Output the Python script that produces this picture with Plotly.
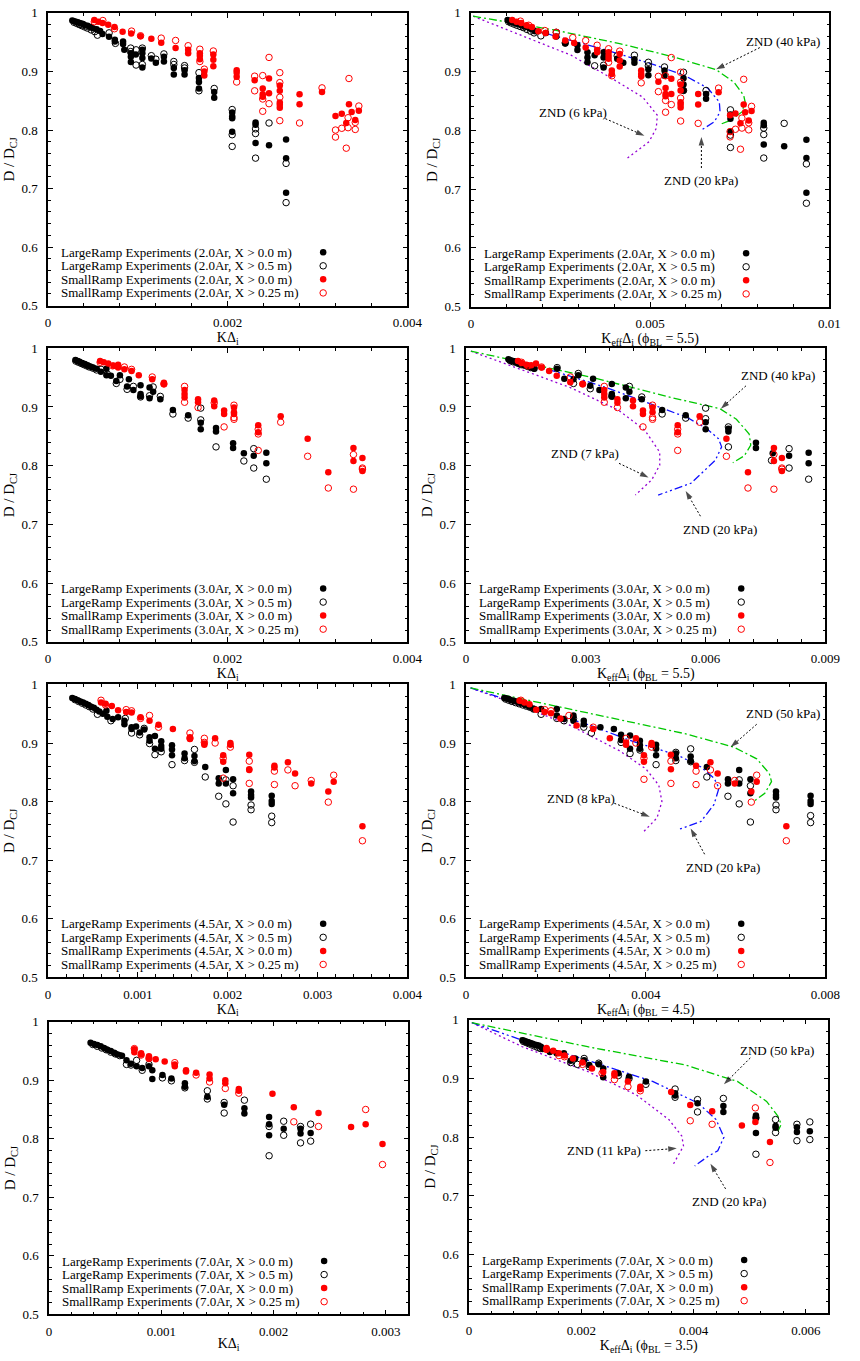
import plotly.graph_objects as go

FONT = "Liberation Serif"
FIG_W, FIG_H = 860, 1361

# ---------------- Row 1 : 2.0Ar ----------------
ar20_K_LR0_x = [0.00027,0.00029,0.00031,0.00033,0.00035,0.00037,0.00039,0.00041,0.00044,0.00047,0.00050,0.00054,0.00058,0.000606,0.000679,0.000744,0.000744,0.000835,0.000835,0.000849,0.000922,0.000922,0.000922,0.000977,0.00105,0.00105,0.00105,0.00105,0.00115,0.0012,0.00129,0.00129,0.0014,0.0014,0.00152,0.00152,0.00168,0.00168,0.00168,0.00185,0.00185,0.00205,0.00205,0.00205,0.00205,0.00231,0.00231,0.00231,0.00246,0.00265,0.00265,0.00265]
ar20_K_LR0_y = [0.987,0.986,0.985,0.984,0.983,0.982,0.981,0.979,0.978,0.976,0.974,0.972,0.969,0.964,0.9595,0.954,0.951,0.951,0.947,0.937,0.931,0.925,0.916,0.929,0.937,0.931,0.923,0.907,0.922,0.915,0.925,0.917,0.906,0.895,0.902,0.895,0.889,0.882,0.871,0.865,0.855,0.830,0.823,0.820,0.797,0.813,0.809,0.778,0.774,0.784,0.752,0.693]
ar20_K_LR5_x = [0.00029,0.00032,0.00035,0.00038,0.00041,0.00044,0.00048,0.00052,0.00055,0.00068,0.00075,0.00092,0.00092,0.00098,0.00098,0.00105,0.00105,0.00115,0.0012,0.00129,0.0014,0.0014,0.00152,0.00152,0.00168,0.00168,0.00185,0.00205,0.00205,0.00205,0.00231,0.00231,0.00231,0.00246,0.00265,0.00265]
ar20_K_LR5_y = [0.984,0.982,0.980,0.978,0.976,0.974,0.971,0.968,0.962,0.966,0.948,0.94,0.934,0.937,0.911,0.94,0.912,0.927,0.921,0.93,0.917,0.912,0.91,0.906,0.898,0.867,0.871,0.835,0.792,0.772,0.802,0.794,0.752,0.812,0.743,0.676]
ar20_K_SR0_x = [0.000515,0.00056,0.000606,0.00067,0.00074,0.00083,0.000926,0.00103,0.00115,0.00126,0.00142,0.00156,0.00156,0.00169,0.00169,0.00169,0.00174,0.00174,0.00184,0.00184,0.00184,0.0021,0.0021,0.0021,0.0023,0.00239,0.00239,0.00239,0.00246,0.00246,0.00258,0.00258,0.00258,0.00258,0.00258,0.0028,0.0028,0.00305,0.0032,0.00327,0.00332,0.00335,0.00338,0.00342,0.00346]
ar20_K_SR0_y = [0.988,0.985,0.983,0.980,0.976,0.968,0.965,0.96,0.956,0.949,0.94,0.937,0.931,0.931,0.927,0.921,0.9,0.893,0.929,0.92,0.909,0.902,0.898,0.891,0.885,0.871,0.861,0.857,0.888,0.863,0.876,0.867,0.847,0.843,0.838,0.861,0.844,0.865,0.824,0.828,0.812,0.844,0.831,0.817,0.833]
ar20_K_SR25_x = [0.000515,0.00061,0.00074,0.00093,0.00103,0.00126,0.00142,0.00156,0.00169,0.00169,0.00174,0.00184,0.0021,0.0023,0.0023,0.00239,0.00239,0.00239,0.00246,0.00246,0.00258,0.00258,0.00258,0.00258,0.0028,0.00305,0.0032,0.0032,0.00327,0.00332,0.00334,0.00334,0.00335,0.00342,0.00342,0.00346]
ar20_K_SR25_y = [0.985,0.987,0.973,0.969,0.961,0.957,0.953,0.944,0.938,0.917,0.904,0.935,0.882,0.892,0.867,0.893,0.853,0.832,0.924,0.845,0.898,0.881,0.856,0.816,0.812,0.872,0.8,0.788,0.803,0.769,0.821,0.804,0.888,0.813,0.801,0.841]

ar20_E_LR0_x = [0.00102,0.00108,0.00114,0.0012,0.00127,0.00134,0.00141,0.00149,0.00157,0.00165,0.00172,0.00179,0.00209,0.00238,0.00263,0.00297,0.00297,0.00325,0.00325,0.00325,0.00345,0.0037,0.0037,0.0037,0.00408,0.00425,0.00456,0.00456,0.00495,0.00495,0.0054,0.0054,0.00593,0.00593,0.00593,0.00656,0.00656,0.00724,0.00724,0.00724,0.00817,0.00817,0.00817,0.00874,0.00936,0.00936,0.00936]
ar20_E_LR0_y = [0.988,0.986,0.985,0.984,0.982,0.981,0.979,0.977,0.976,0.974,0.972,0.969,0.966,0.96,0.948,0.945,0.937,0.933,0.924,0.916,0.928,0.933,0.924,0.907,0.922,0.915,0.921,0.915,0.904,0.894,0.902,0.893,0.889,0.878,0.868,0.862,0.854,0.827,0.82,0.798,0.813,0.809,0.776,0.773,0.784,0.753,0.694]
ar20_E_LR5_x = [0.00105,0.00112,0.0012,0.00128,0.00137,0.00146,0.00156,0.00166,0.00176,0.00195,0.00238,0.00263,0.00345,0.0037,0.00408,0.00456,0.00495,0.00495,0.0054,0.00593,0.00593,0.00656,0.00724,0.00724,0.00724,0.00817,0.00817,0.00817,0.00874,0.00936,0.00936]
ar20_E_LR5_y = [0.985,0.983,0.981,0.979,0.977,0.975,0.972,0.969,0.966,0.961,0.967,0.949,0.91,0.911,0.927,0.928,0.916,0.91,0.908,0.899,0.868,0.868,0.835,0.792,0.771,0.804,0.793,0.753,0.812,0.743,0.676]
ar20_E_SR0_x = [0.00115,0.00127,0.0014,0.00155,0.0017,0.00188,0.00208,0.00236,0.00263,0.00288,0.0032,0.00352,0.00352,0.00384,0.00384,0.00384,0.00393,0.00393,0.00415,0.00415,0.00415,0.00475,0.00475,0.00475,0.00523,0.00543,0.00543,0.00543,0.00559,0.00559,0.00585,0.00585,0.00585,0.00585,0.00585,0.00634,0.00634,0.00691,0.00723,0.00738,0.00752,0.00761,0.00765,0.00775,0.00783]
ar20_E_SR0_y = [0.988,0.985,0.983,0.979,0.976,0.969,0.966,0.96,0.953,0.949,0.941,0.937,0.933,0.933,0.927,0.922,0.902,0.896,0.93,0.919,0.909,0.902,0.896,0.892,0.883,0.872,0.862,0.858,0.888,0.862,0.878,0.868,0.848,0.844,0.839,0.862,0.844,0.865,0.826,0.829,0.812,0.844,0.831,0.817,0.833]
ar20_E_SR25_x = [0.00138,0.00161,0.00206,0.00238,0.00284,0.0032,0.00352,0.00384,0.00384,0.00393,0.00415,0.00475,0.00523,0.00523,0.00543,0.00543,0.00543,0.00559,0.00559,0.00585,0.00585,0.00585,0.00585,0.00634,0.00691,0.00723,0.00723,0.00738,0.00752,0.00756,0.00756,0.00761,0.00775,0.00775,0.00783]
ar20_E_SR25_y = [0.986,0.979,0.97,0.967,0.958,0.953,0.945,0.939,0.916,0.893,0.935,0.881,0.892,0.866,0.893,0.851,0.831,0.924,0.844,0.899,0.882,0.855,0.816,0.812,0.872,0.789,0.798,0.802,0.768,0.821,0.804,0.887,0.813,0.801,0.841]

ar20_znd40_x = [0.00006,0.00234,0.00415,0.00561,0.00684,0.00734,0.00761,0.00765,0.00756,0.00725,0.00697]
ar20_znd40_y = [0.9944,0.9708,0.9478,0.9258,0.9034,0.882,0.8596,0.8483,0.8315,0.8174,0.8107]
ar20_znd20_x = [0.00102,0.00234,0.0037,0.00506,0.00597,0.00661,0.00693,0.00695,0.00679,0.00643]
ar20_znd20_y = [0.986,0.9607,0.9382,0.9129,0.8933,0.8719,0.8483,0.8315,0.8146,0.8006]
ar20_znd6_x = [0.00006,0.00143,0.00279,0.00388,0.00479,0.0052,0.00517,0.00497,0.00434]
ar20_znd6_y = [0.9944,0.9607,0.9281,0.8904,0.8567,0.8258,0.8034,0.7809,0.7517]

# ---------------- Row 2 : 3.0Ar ----------------
ar30_K_LR0_x = [0.000305,0.00033,0.00035,0.00038,0.00041,0.00044,0.00047,0.0005,0.00054,0.000588,0.00065,0.00065,0.0007,0.00076,0.0008,0.00088,0.0009,0.00095,0.00103,0.00103,0.00103,0.00113,0.00113,0.00117,0.00125,0.00139,0.00156,0.0017,0.0017,0.00187,0.00187,0.00206,0.00206,0.00218,0.00229,0.00243,0.00243]
ar30_K_LR0_y = [0.98,0.978,0.977,0.975,0.973,0.971,0.969,0.967,0.965,0.96,0.965,0.954,0.953,0.944,0.954,0.935,0.947,0.929,0.937,0.922,0.918,0.933,0.915,0.926,0.913,0.895,0.886,0.873,0.862,0.864,0.858,0.838,0.83,0.821,0.817,0.822,0.804]
ar30_K_LR5_x = [0.00031,0.00034,0.00037,0.0004,0.00043,0.00046,0.0005,0.00054,0.00059,0.00066,0.00076,0.0008,0.00088,0.00095,0.00103,0.00113,0.00117,0.00125,0.00139,0.00156,0.0017,0.0017,0.00187,0.00218,0.00229,0.00229,0.00243]
ar30_K_LR5_y = [0.978,0.976,0.974,0.972,0.97,0.968,0.966,0.963,0.964,0.956,0.94,0.947,0.93,0.935,0.917,0.919,0.934,0.918,0.888,0.881,0.898,0.878,0.832,0.808,0.829,0.796,0.777]
ar30_K_SR0_x = [0.00058,0.00062,0.00067,0.00073,0.00078,0.00078,0.00085,0.00093,0.00101,0.00116,0.00129,0.00129,0.00152,0.00152,0.00152,0.00167,0.00167,0.00185,0.00185,0.00196,0.00196,0.00207,0.00207,0.00207,0.00234,0.00234,0.00259,0.00289,0.00312,0.0034,0.0034,0.0035,0.0035]
ar30_K_SR0_y = [0.978,0.976,0.974,0.97,0.972,0.967,0.964,0.961,0.954,0.947,0.941,0.939,0.929,0.922,0.916,0.913,0.908,0.911,0.901,0.894,0.888,0.899,0.891,0.888,0.869,0.857,0.884,0.846,0.789,0.83,0.808,0.813,0.791]
ar30_K_SR25_x = [0.00058,0.00072,0.00085,0.00093,0.00116,0.00129,0.00152,0.00152,0.00167,0.00185,0.00196,0.00207,0.00207,0.00207,0.00234,0.00234,0.00234,0.00259,0.00289,0.00312,0.0034,0.0034,0.0035,0.0035]
ar30_K_SR25_y = [0.976,0.97,0.968,0.964,0.951,0.939,0.935,0.908,0.899,0.907,0.866,0.903,0.882,0.879,0.862,0.854,0.826,0.874,0.816,0.762,0.819,0.76,0.796,0.794]

ar30_E_LR0_x = [0.00106,0.00112,0.00118,0.00124,0.0013,0.00137,0.00144,0.00151,0.00158,0.00165,0.00171,0.00228,0.00246,0.00269,0.00281,0.00311,0.00318,0.00334,0.00365,0.00365,0.00365,0.004,0.004,0.00409,0.0044,0.00491,0.0055,0.006,0.006,0.00657,0.00657,0.00726,0.00726,0.00768,0.00809,0.00858,0.00858]
ar30_E_LR0_y = [0.981,0.979,0.978,0.977,0.975,0.974,0.972,0.971,0.969,0.967,0.965,0.965,0.948,0.947,0.954,0.936,0.948,0.929,0.939,0.922,0.918,0.933,0.915,0.926,0.913,0.895,0.886,0.874,0.862,0.863,0.858,0.839,0.83,0.821,0.817,0.822,0.804]
ar30_E_LR5_x = [0.0011,0.00117,0.00124,0.00131,0.00138,0.00146,0.00154,0.00162,0.0017,0.00228,0.00269,0.00281,0.00311,0.00365,0.00409,0.0044,0.00491,0.0055,0.006,0.006,0.00657,0.00657,0.00765,0.00809,0.00809,0.00858]
ar30_E_LR5_y = [0.979,0.977,0.976,0.974,0.972,0.971,0.969,0.967,0.966,0.967,0.94,0.957,0.931,0.918,0.935,0.917,0.888,0.881,0.898,0.88,0.866,0.832,0.809,0.829,0.796,0.777]
ar30_E_SR0_x = [0.0013,0.00139,0.00151,0.00163,0.00175,0.00189,0.00208,0.00227,0.00261,0.00292,0.00346,0.00346,0.00346,0.00379,0.00379,0.00418,0.00418,0.00443,0.00443,0.00467,0.00467,0.0053,0.0053,0.00585,0.00652,0.00706,0.00771,0.00771,0.00791,0.00791]
ar30_E_SR0_y = [0.978,0.975,0.972,0.971,0.974,0.967,0.961,0.953,0.942,0.939,0.929,0.922,0.916,0.913,0.907,0.911,0.901,0.894,0.888,0.899,0.891,0.869,0.857,0.884,0.846,0.789,0.83,0.808,0.813,0.791]
ar30_E_SR25_x = [0.00139,0.00155,0.00189,0.00261,0.00292,0.00346,0.00346,0.00379,0.00443,0.00467,0.00467,0.00467,0.0053,0.0053,0.0053,0.00585,0.00652,0.00706,0.00771,0.00771,0.00791,0.00791]
ar30_E_SR25_y = [0.976,0.97,0.968,0.951,0.939,0.935,0.908,0.899,0.866,0.903,0.882,0.879,0.862,0.854,0.826,0.874,0.816,0.762,0.819,0.76,0.796,0.794]

ar30_znd40_x = [0.00012,0.00318,0.00514,0.00636,0.00677,0.00709,0.00713,0.00697,0.00668]
ar30_znd40_y = [0.995,0.95,0.916,0.897,0.879,0.854,0.835,0.817,0.805]
ar30_znd20_x = [0.00102,0.0022,0.00351,0.00465,0.00554,0.00603,0.00632,0.0064,0.00624,0.00563,0.00481]
ar30_znd20_y = [0.981,0.961,0.933,0.905,0.882,0.863,0.846,0.832,0.809,0.77,0.75]
ar30_znd7_x = [0.00012,0.00139,0.00261,0.00383,0.00448,0.00485,0.00485,0.00465,0.00424]
ar30_znd7_y = [0.995,0.964,0.933,0.894,0.86,0.823,0.801,0.776,0.75]

# ---------------- Row 3 : 4.5Ar ----------------
ar45_K_LR0_x = [0.00027,0.0003,0.00033,0.00036,0.00039,0.00042,0.00045,0.00048,0.00051,0.00054,0.00057,0.00061,0.00065,0.00066,0.00072,0.00078,0.00085,0.00085,0.00093,0.00093,0.00098,0.00102,0.00107,0.00113,0.00113,0.00119,0.00119,0.00126,0.00126,0.00126,0.00138,0.00138,0.00138,0.00152,0.00152,0.00163,0.00163,0.00175,0.0019,0.0019,0.00198,0.00198,0.00206,0.00206,0.00226,0.00226,0.00226,0.00249,0.00249,0.00249]
ar45_K_LR0_y = [0.977,0.975,0.973,0.971,0.969,0.967,0.965,0.962,0.96,0.957,0.954,0.95,0.955,0.945,0.941,0.944,0.938,0.932,0.927,0.924,0.928,0.918,0.923,0.91,0.904,0.912,0.89,0.903,0.895,0.89,0.896,0.889,0.879,0.882,0.874,0.878,0.869,0.859,0.84,0.831,0.854,0.831,0.838,0.814,0.817,0.811,0.807,0.81,0.801,0.796]
ar45_K_LR5_x = [0.0003,0.00034,0.00038,0.00042,0.00046,0.0005,0.00055,0.0007,0.00086,0.00093,0.00102,0.00107,0.00113,0.00119,0.00126,0.00138,0.00152,0.00163,0.00163,0.00175,0.0019,0.00198,0.00198,0.00206,0.00206,0.00226,0.00226,0.00249,0.00249]
ar45_K_LR5_y = [0.974,0.971,0.968,0.965,0.962,0.958,0.949,0.938,0.942,0.917,0.914,0.925,0.899,0.88,0.885,0.863,0.87,0.889,0.867,0.842,0.809,0.837,0.796,0.827,0.765,0.794,0.786,0.775,0.764]
ar45_K_SR0_x = [0.00059,0.00064,0.00071,0.00078,0.00087,0.00093,0.00103,0.00113,0.00123,0.00139,0.00158,0.00158,0.00174,0.00174,0.00186,0.00195,0.00195,0.00203,0.00203,0.00224,0.00224,0.00224,0.00252,0.00252,0.00267,0.00275,0.00293,0.00312,0.00318,0.0035]
ar45_K_SR0_y = [0.969,0.967,0.963,0.956,0.953,0.952,0.944,0.938,0.931,0.924,0.91,0.907,0.899,0.897,0.908,0.879,0.868,0.9,0.897,0.88,0.855,0.854,0.861,0.858,0.867,0.848,0.831,0.817,0.834,0.758]
ar45_K_SR25_x = [0.00059,0.00064,0.00087,0.00093,0.00103,0.00113,0.00123,0.00158,0.00158,0.00174,0.00174,0.00186,0.00195,0.00195,0.00203,0.00224,0.00224,0.00252,0.00252,0.00267,0.00275,0.00293,0.00312,0.00318,0.0035]
ar45_K_SR25_y = [0.973,0.965,0.957,0.955,0.942,0.947,0.927,0.917,0.908,0.908,0.901,0.9,0.874,0.84,0.893,0.869,0.831,0.852,0.829,0.854,0.827,0.836,0.799,0.845,0.733]

ar45_E_LR0_x = [0.00085,0.0009,0.00095,0.001,0.00106,0.00112,0.00118,0.00124,0.0013,0.00136,0.00142,0.00152,0.00167,0.00202,0.00202,0.00218,0.00239,0.00239,0.00262,0.00262,0.00299,0.00329,0.00345,0.00345,0.00365,0.00365,0.00387,0.00387,0.00387,0.00423,0.00423,0.00423,0.00467,0.00467,0.005,0.005,0.00536,0.00583,0.00583,0.00608,0.00608,0.00633,0.00633,0.0069,0.0069,0.0069,0.00767,0.00767,0.00767]
ar45_E_LR0_y = [0.977,0.976,0.975,0.973,0.972,0.971,0.969,0.968,0.966,0.964,0.962,0.958,0.958,0.958,0.947,0.941,0.947,0.938,0.938,0.932,0.927,0.924,0.914,0.905,0.913,0.89,0.904,0.896,0.89,0.897,0.89,0.879,0.882,0.874,0.877,0.869,0.859,0.838,0.831,0.854,0.831,0.838,0.814,0.817,0.811,0.807,0.81,0.801,0.796]
ar45_E_LR5_x = [0.00088,0.00095,0.00102,0.0011,0.00118,0.00126,0.00134,0.00142,0.0015,0.00167,0.00202,0.00218,0.00239,0.00262,0.00279,0.00345,0.00365,0.00387,0.00423,0.00467,0.00467,0.005,0.005,0.00536,0.00583,0.00608,0.00608,0.00633,0.00633,0.0069,0.0069,0.00767,0.00767]
ar45_E_LR5_y = [0.975,0.973,0.971,0.969,0.967,0.965,0.963,0.961,0.958,0.949,0.942,0.938,0.942,0.927,0.917,0.901,0.882,0.888,0.863,0.884,0.87,0.89,0.868,0.842,0.809,0.837,0.796,0.827,0.765,0.794,0.786,0.776,0.764]
ar45_E_SR0_x = [0.00119,0.0013,0.00141,0.00156,0.00175,0.00189,0.0021,0.00246,0.00283,0.0032,0.00356,0.00356,0.00378,0.00396,0.00396,0.00413,0.00413,0.00456,0.00456,0.00512,0.00544,0.0056,0.00598,0.00635,0.00647,0.00713]
ar45_E_SR0_y = [0.972,0.969,0.966,0.957,0.953,0.951,0.942,0.93,0.924,0.908,0.901,0.897,0.908,0.879,0.868,0.9,0.897,0.88,0.855,0.861,0.867,0.848,0.831,0.817,0.834,0.758]
ar45_E_SR25_x = [0.00122,0.00175,0.00189,0.00229,0.00283,0.00356,0.00378,0.00396,0.00396,0.00413,0.00456,0.00456,0.00512,0.00512,0.00544,0.0056,0.00598,0.00635,0.00647,0.00713]
ar45_E_SR25_y = [0.973,0.957,0.955,0.947,0.927,0.908,0.9,0.874,0.838,0.893,0.869,0.831,0.852,0.829,0.854,0.827,0.836,0.799,0.845,0.733]

ar45_znd50_x = [0.0001,0.00269,0.00487,0.00596,0.00647,0.00675,0.0068,0.00665,0.0064]
ar45_znd50_y = [0.994,0.952,0.916,0.893,0.873,0.848,0.834,0.814,0.8]
ar45_znd20_x = [0.0001,0.00123,0.00269,0.00378,0.00472,0.00523,0.00552,0.00563,0.00552,0.00523,0.00472]
ar45_znd20_y = [0.994,0.966,0.932,0.901,0.879,0.859,0.84,0.823,0.795,0.766,0.752]
ar45_znd8_x = [0.0001,0.00123,0.00232,0.00341,0.004,0.00429,0.00436,0.00425,0.00396]
ar45_znd8_y = [0.994,0.963,0.93,0.887,0.856,0.828,0.8,0.772,0.749]

# ---------------- Row 4 : 7.0Ar ----------------
ar70_K_LR0_x = [0.00037,0.0004,0.00043,0.00046,0.00049,0.00052,0.00055,0.00058,0.00061,0.00065,0.00069,0.00073,0.00078,0.00083,0.00089,0.00092,0.00092,0.00101,0.00109,0.00121,0.00121,0.00141,0.00156,0.00174,0.00174,0.00196,0.00196,0.00196,0.00209,0.00224,0.00224,0.00233]
ar70_K_LR0_y = [0.964,0.962,0.96,0.958,0.955,0.952,0.95,0.947,0.944,0.942,0.934,0.928,0.924,0.921,0.924,0.917,0.902,0.909,0.903,0.895,0.889,0.872,0.858,0.852,0.843,0.837,0.825,0.806,0.817,0.817,0.809,0.81]
ar70_K_LR5_x = [0.00039,0.00043,0.00047,0.00051,0.00055,0.00059,0.00063,0.00069,0.00073,0.00078,0.00083,0.00089,0.00101,0.00109,0.00121,0.00141,0.00141,0.00156,0.00156,0.00174,0.00196,0.00196,0.00209,0.00209,0.00224,0.00224,0.00233,0.00233]
ar70_K_LR5_y = [0.961,0.958,0.955,0.952,0.948,0.945,0.942,0.927,0.926,0.934,0.917,0.927,0.904,0.899,0.887,0.882,0.868,0.862,0.844,0.866,0.821,0.771,0.83,0.806,0.821,0.793,0.825,0.796]
ar70_K_SR0_x = [0.00076,0.00076,0.00082,0.00082,0.00089,0.00089,0.00095,0.00103,0.00112,0.00112,0.00122,0.00122,0.00131,0.00143,0.00143,0.00157,0.00157,0.00169,0.00169,0.00199,0.00218,0.0024,0.00269,0.00282,0.00297]
ar70_K_SR0_y = [0.953,0.948,0.946,0.944,0.941,0.938,0.936,0.932,0.927,0.924,0.917,0.915,0.913,0.91,0.903,0.9,0.895,0.885,0.882,0.877,0.854,0.844,0.82,0.825,0.791]
ar70_K_SR25_x = [0.00076,0.00082,0.00089,0.00112,0.00131,0.00143,0.00157,0.00169,0.00218,0.0024,0.00282,0.00297]
ar70_K_SR25_y = [0.954,0.943,0.937,0.93,0.909,0.897,0.886,0.878,0.829,0.821,0.85,0.756]

ar70_E_LR0_x = [0.00095,0.00098,0.00101,0.00104,0.00107,0.0011,0.00113,0.00116,0.0012,0.00124,0.00128,0.00131,0.00144,0.00156,0.00169,0.00181,0.00189,0.00205,0.00214,0.00231,0.00239,0.00239,0.00266,0.00285,0.00315,0.00367,0.00367,0.00407,0.00453,0.00453,0.00511,0.00511,0.00511,0.00546,0.00546,0.00584,0.00584,0.00607]
ar70_E_LR0_y = [0.965,0.964,0.963,0.962,0.961,0.96,0.959,0.958,0.957,0.956,0.954,0.95,0.945,0.943,0.943,0.93,0.934,0.931,0.923,0.924,0.917,0.902,0.909,0.903,0.895,0.875,0.871,0.858,0.853,0.843,0.837,0.833,0.807,0.819,0.816,0.817,0.809,0.81]
ar70_E_LR5_x = [0.00097,0.00102,0.00107,0.00112,0.00117,0.00122,0.00127,0.00181,0.00193,0.00205,0.00214,0.00231,0.00266,0.00285,0.00315,0.00367,0.00367,0.00407,0.00407,0.00453,0.00511,0.00511,0.00546,0.00546,0.00584,0.00584,0.00607,0.00607]
ar70_E_LR5_y = [0.963,0.961,0.959,0.957,0.955,0.953,0.951,0.927,0.924,0.934,0.92,0.926,0.905,0.9,0.89,0.882,0.868,0.864,0.843,0.866,0.833,0.771,0.83,0.808,0.822,0.794,0.826,0.796]
ar70_E_SR0_x = [0.00138,0.00138,0.0015,0.0016,0.0017,0.00185,0.00202,0.00219,0.00239,0.00259,0.00259,0.00283,0.00305,0.00305,0.0036,0.00394,0.00433,0.00486,0.0051,0.00536]
ar70_E_SR0_y = [0.952,0.949,0.947,0.943,0.939,0.934,0.927,0.917,0.911,0.909,0.905,0.895,0.886,0.882,0.877,0.855,0.844,0.82,0.826,0.792]
ar70_E_SR25_x = [0.00138,0.0016,0.0017,0.00202,0.00237,0.00259,0.00283,0.00305,0.00394,0.00433,0.0051,0.00536]
ar70_E_SR25_y = [0.95,0.939,0.937,0.924,0.909,0.898,0.886,0.879,0.828,0.822,0.85,0.757]

ar70_znd50_x = [0.00005,0.00211,0.00385,0.00478,0.0053,0.0055,0.00556,0.0055]
ar70_znd50_y = [0.995,0.954,0.923,0.895,0.861,0.836,0.822,0.81]
ar70_znd20_x = [0.00005,0.00095,0.00211,0.00327,0.00408,0.0044,0.00454,0.00443,0.00425,0.00402]
ar70_znd20_y = [0.995,0.965,0.931,0.895,0.858,0.83,0.8,0.777,0.767,0.751]
ar70_znd11_x = [0.00005,0.00095,0.00211,0.00298,0.00356,0.00379,0.00382,0.00362]
ar70_znd11_y = [0.995,0.954,0.912,0.872,0.83,0.802,0.785,0.751]

# ---------------- styling / layout ----------------
GREEN, BLUE, PURPLE = "#00c800", "#1010ff", "#9400d3"
DASH_G = "8px,3px,2px,3px"
DASH_B = "8px,3px,2px,3px,2px,3px"
DASH_P = "2px,3px"

KT = "KΔ<sub>i</sub>"
def ET(phi):
    return "K<sub>eff</sub>Δ<sub>i</sub> (ϕ<sub>BL</sub> = %s)" % phi

def leg_names(ar):
    return ["LargeRamp Experiments (%sAr, X > 0.0 m)" % ar,
            "LargeRamp Experiments (%sAr, X > 0.5 m)" % ar,
            "SmallRamp Experiments (%sAr, X > 0.0 m)" % ar,
            "SmallRamp Experiments (%sAr, X > 0.25 m)" % ar]

panels = [
    dict(rect=(46, 413, 6, 302), xmax=0.004, dt=0.002, mdt=0.0004, xt=KT, ar="2.0",
         pts=[(ar20_K_LR0_x, ar20_K_LR0_y), (ar20_K_LR5_x, ar20_K_LR5_y), (ar20_K_SR0_x, ar20_K_SR0_y), (ar20_K_SR25_x, ar20_K_SR25_y)], znd=[], notes=[]),
    dict(rect=(478, 844, 6, 303), xmax=0.01, dt=0.005, mdt=0.001, xt=ET("5.5"), ar="2.0",
         pts=[(ar20_E_LR0_x, ar20_E_LR0_y), (ar20_E_LR5_x, ar20_E_LR5_y), (ar20_E_SR0_x, ar20_E_SR0_y), (ar20_E_SR25_x, ar20_E_SR25_y)],
         znd=[(ar20_znd6_x, ar20_znd6_y, PURPLE, DASH_P), (ar20_znd20_x, ar20_znd20_y, BLUE, DASH_B), (ar20_znd40_x, ar20_znd40_y, GREEN, DASH_G)],
         notes=[("ZND (40 kPa)", 0.0087, 0.9506, 0.00806, 0.941, 0.00684, 0.904),
                ("ZND (6 kPa)", 0.00285, 0.831, 0.00375, 0.82, 0.00484, 0.791),
                ("ZND (20 kPa)", 0.00641, 0.715, 0.00643, 0.736, 0.00643, 0.789)]),
    dict(rect=(46, 413, 345, 642), xmax=0.004, dt=0.002, mdt=0.0004, xt=KT, ar="3.0",
         pts=[(ar30_K_LR0_x, ar30_K_LR0_y), (ar30_K_LR5_x, ar30_K_LR5_y), (ar30_K_SR0_x, ar30_K_SR0_y), (ar30_K_SR25_x, ar30_K_SR25_y)], znd=[], notes=[]),
    dict(rect=(473, 840, 345, 642), xmax=0.009, dt=0.003, mdt=0.0006, xt=ET("5.5"), ar="3.0",
         pts=[(ar30_E_LR0_x, ar30_E_LR0_y), (ar30_E_LR5_x, ar30_E_LR5_y), (ar30_E_SR0_x, ar30_E_SR0_y), (ar30_E_SR25_x, ar30_E_SR25_y)],
         znd=[(ar30_znd7_x, ar30_znd7_y, PURPLE, DASH_P), (ar30_znd20_x, ar30_znd20_y, BLUE, DASH_B), (ar30_znd40_x, ar30_znd40_y, GREEN, DASH_G)],
         notes=[("ZND (40 kPa)", 0.0078, 0.954, 0.00701, 0.936, 0.00638, 0.897),
                ("ZND (7 kPa)", 0.00298, 0.821, 0.00383, 0.804, 0.00457, 0.78),
                ("ZND (20 kPa)", 0.00636, 0.691, 0.00587, 0.714, 0.0055, 0.757)]),
    dict(rect=(46, 413, 685, 981), xmax=0.004, dt=0.001, mdt=0.0002, xt=KT, ar="4.5",
         pts=[(ar45_K_LR0_x, ar45_K_LR0_y), (ar45_K_LR5_x, ar45_K_LR5_y), (ar45_K_SR0_x, ar45_K_SR0_y), (ar45_K_SR25_x, ar45_K_SR25_y)], znd=[], notes=[]),
    dict(rect=(473, 840, 685, 981), xmax=0.008, dt=0.004, mdt=0.0008, xt=ET("4.5"), ar="4.5",
         pts=[(ar45_E_LR0_x, ar45_E_LR0_y), (ar45_E_LR5_x, ar45_E_LR5_y), (ar45_E_SR0_x, ar45_E_SR0_y), (ar45_E_SR25_x, ar45_E_SR25_y)],
         znd=[(ar45_znd8_x, ar45_znd8_y, PURPLE, DASH_P), (ar45_znd20_x, ar45_znd20_y, BLUE, DASH_B), (ar45_znd50_x, ar45_znd50_y, GREEN, DASH_G)],
         notes=[("ZND (50 kPa)", 0.00705, 0.95, 0.00647, 0.932, 0.00589, 0.893),
                ("ZND (8 kPa)", 0.00255, 0.806, 0.0033, 0.797, 0.00409, 0.774),
                ("ZND (20 kPa)", 0.00571, 0.687, 0.00531, 0.71, 0.005, 0.754)]),
    dict(rect=(47, 414, 1026, 1322), xmax=0.0032, dt=0.001, mdt=0.0002, xt=KT, ar="7.0",
         pts=[(ar70_K_LR0_x, ar70_K_LR0_y), (ar70_K_LR5_x, ar70_K_LR5_y), (ar70_K_SR0_x, ar70_K_SR0_y), (ar70_K_SR25_x, ar70_K_SR25_y)], znd=[], notes=[]),
    dict(rect=(476, 843, 1024, 1321), xmax=0.0064, dt=0.002, mdt=0.0004, xt=ET("3.5"), ar="7.0",
         pts=[(ar70_E_LR0_x, ar70_E_LR0_y), (ar70_E_LR5_x, ar70_E_LR5_y), (ar70_E_SR0_x, ar70_E_SR0_y), (ar70_E_SR25_x, ar70_E_SR25_y)],
         znd=[(ar70_znd11_x, ar70_znd11_y, PURPLE, DASH_P), (ar70_znd20_x, ar70_znd20_y, BLUE, DASH_B), (ar70_znd50_x, ar70_znd50_y, GREEN, DASH_G)],
         notes=[("ZND (50 kPa)", 0.00548, 0.947, 0.00501, 0.935, 0.00454, 0.89),
                ("ZND (11 kPa)", 0.00241, 0.778, 0.00314, 0.777, 0.0037, 0.781),
                ("ZND (20 kPa)", 0.00463, 0.691, 0.00457, 0.712, 0.0043, 0.755)]),
]

STYLES = [
    dict(symbol="circle", color="black", size=6.5, lw=0),
    dict(symbol="circle-open", color="black", size=6.5, lw=1),
    dict(symbol="circle", color="#ff0000", size=6.5, lw=0),
    dict(symbol="circle-open", color="#ff0000", size=6.5, lw=1),
]

YMIN, YMAX = 0.5, 1.0
fig = go.Figure()
layout = dict(width=FIG_W, height=FIG_H, margin=dict(l=0, r=0, t=0, b=0),
              paper_bgcolor="white", plot_bgcolor="white", showlegend=False,
              font=dict(family=FONT, size=13, color="black"))
annotations = []

for i, p in enumerate(panels, start=1):
    xa = "x" if i == 1 else "x%d" % i
    ya = "y" if i == 1 else "y%d" % i
    x0, x1, yt, yb = p["rect"]
    wpx, hpx = x1 - x0, yb - yt
    axis_common = dict(showline=True, linewidth=1.5, linecolor="black", mirror="allticks",
                       ticks="inside", ticklen=5, tickwidth=1, tickcolor="black",
                       showgrid=False, zeroline=False,
                       tickfont=dict(family=FONT, size=13, color="black"))
    layout["xaxis" if i == 1 else "xaxis%d" % i] = dict(
        axis_common, domain=[x0 / FIG_W, x1 / FIG_W], anchor=ya, range=[0, p["xmax"]],
        dtick=p["dt"], tick0=0, ticklabelstandoff=4,
        minor=dict(dtick=p["mdt"], ticks="inside", ticklen=3, tickcolor="black", showgrid=False),
        title=dict(text=p["xt"], font=dict(family=FONT, size=14), standoff=0))
    layout["yaxis" if i == 1 else "yaxis%d" % i] = dict(
        axis_common, domain=[1 - yb / FIG_H, 1 - yt / FIG_H], anchor=xa, range=[YMIN, YMAX],
        dtick=0.1, tick0=0.5, ticklabelstandoff=6,
        minor=dict(dtick=0.02, ticks="inside", ticklen=3, tickcolor="black", showgrid=False),
        title=dict(text="D / D<sub>CJ</sub>", font=dict(family=FONT, size=15), standoff=3))

    # ZND curves
    for zx, zy, col, dash in p["znd"]:
        fig.add_trace(go.Scatter(x=zx, y=zy, mode="lines", xaxis=xa, yaxis=ya,
                                 line=dict(color=col, width=1.3, dash=dash), hoverinfo="skip"))
    # experiment points
    for (px, py), st in zip(p["pts"], STYLES):
        fig.add_trace(go.Scatter(x=px, y=py, mode="markers", xaxis=xa, yaxis=ya,
                                 marker=dict(symbol=st["symbol"], color=st["color"], size=st["size"],
                                             line=dict(color=st["color"], width=st["lw"]))))
    # legend (text left, key marker right)
    names = leg_names(p["ar"])
    for k, (nm, st) in enumerate(zip(names, STYLES)):
        off = 54 - k * 13.7
        annotations.append(dict(text=nm, xref=xa + " domain", yref=ya + " domain",
                                x=11 / wpx, y=off / hpx, xanchor="left", yanchor="middle",
                                showarrow=False, font=dict(family=FONT, size=13, color="black")))
        fig.add_trace(go.Scatter(x=[p["xmax"] * 281 / wpx], y=[YMIN + (YMAX - YMIN) * off / hpx],
                                 mode="markers", xaxis=xa, yaxis=ya, hoverinfo="skip",
                                 marker=dict(symbol=st["symbol"], color=st["color"], size=st["size"],
                                             line=dict(color=st["color"], width=st["lw"]))))
    # ZND labels with dotted arrows (arrowhead oriented along the shaft)
    for txt, tx, ty, ax0, ay0, hx, hy in p["notes"]:
        annotations.append(dict(text=txt, x=tx, y=ty, xref=xa, yref=ya, showarrow=False,
                                xanchor="center", yanchor="middle",
                                font=dict(family=FONT, size=13, color="black")))
        fig.add_trace(go.Scatter(x=[ax0, hx], y=[ay0, hy], mode="lines+markers",
                                 xaxis=xa, yaxis=ya, hoverinfo="skip",
                                 line=dict(color="black", width=1, dash="2px,2px"),
                                 marker=dict(symbol=["circle", "arrow"], size=[0, 9],
                                             color="black", angleref="previous",
                                             line=dict(width=0))))

layout["annotations"] = annotations
fig.update_layout(**layout)
fig.write_html("out.html")
